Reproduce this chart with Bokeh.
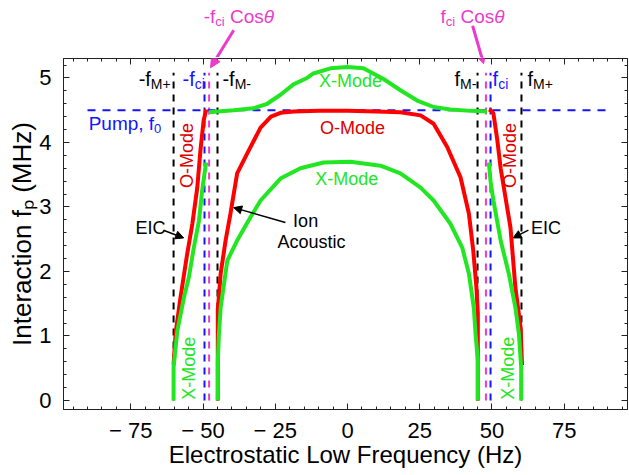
import numpy as np
from math import pi
from bokeh.plotting import figure
from bokeh.layouts import column
from bokeh.models import Label, Arrow, NormalHead, Range1d, FixedTicker, LinearAxis
from bokeh.embed import file_html
from bokeh.resources import INLINE

# ---------------- data (Hz, MHz) ----------------
f_M_plus = 60.2
f_M_minus = 45.0
f_ci = 49.5
f_ci_cos = 47.9
pump_f0 = 4.5
pump_x = [-90.0, 90.0]
vline_top = 5.08

# outer O-mode (EIC) branches
o_eic_left_x = [-60.2, -59.5, -57.8, -55.5, -53.7, -52.0, -50.9, -49.8, -48.9]
o_eic_left_y = [0.55, 1.04, 1.60, 2.27, 2.74, 3.30, 3.88, 4.34, 4.51]
o_eic_right_x = [48.9, 49.5, 50.5, 51.8, 53.0, 56.4, 58.1, 59.9, 60.4]
o_eic_right_y = [4.51, 4.50, 4.45, 4.05, 3.60, 2.68, 1.75, 1.13, 0.55]

# outer X-mode (EIC) branches
x_eic_left_x = [-60.2, -60.2, -58.9, -56.6, -54.9, -53.2, -51.4, -50.3, -49.5, -48.9]
x_eic_left_y = [0.0, 0.51, 1.08, 1.60, 1.91, 2.37, 2.79, 3.26, 3.52, 3.69]
x_eic_right_x = [48.9, 49.5, 50.5, 53.0, 55.8, 58.1, 59.3, 60.1, 60.1]
x_eic_right_y = [3.69, 3.40, 3.10, 2.48, 1.97, 1.44, 1.04, 0.51, 0.0]

# inner O-mode (ion acoustic) dome
o_ia_x = [-44.9, -44.9, -44.9, -43.9, -42.2, -40.5, -38.2, -34.7, -30.1, -26.5, -23.2,
          -18.7, -10.0, 0.0, 10.0, 18.3, 25.3, 29.8, 34.5, 39.1, 42.0, 43.5, 44.6, 45.1, 45.1, 45.1]
o_ia_y = [0.0, 0.70, 1.40, 1.97, 2.48, 2.90, 3.52, 3.83, 4.23, 4.40, 4.46,
          4.48, 4.49, 4.49, 4.48, 4.47, 4.42, 4.29, 3.93, 3.46, 2.90, 2.33, 1.76, 1.35, 0.70, 0.0]

# inner X-mode dome
x_ia_x = [-44.9, -44.9, -44.5, -43.9, -41.6, -38.2, -33.6, -30.1, -23.2, -16.3, -8.3, 1.0,
          11.4, 18.3, 25.3, 29.8, 35.6, 39.7, 42.0, 43.7, 44.3, 45.1, 45.1]
x_ia_y = [0.0, 0.60, 1.04, 1.44, 2.17, 2.48, 2.84, 3.10, 3.44, 3.60, 3.69, 3.70,
          3.64, 3.52, 3.30, 3.10, 2.74, 2.37, 1.97, 1.44, 1.04, 0.62, 0.0]

# upper X-mode (above pump)
x_up_x = [-48.0, -39.4, -32.5, -27.8, -23.2, -18.7, -14.0, -11.8, -5.9, 0.0, 5.5,
          12.6, 18.3, 24.1, 29.8, 35.6, 42.6, 48.3]
x_up_y = [4.47, 4.50, 4.53, 4.60, 4.74, 4.90, 5.00, 5.07, 5.15, 5.17, 5.15,
          4.98, 4.81, 4.65, 4.55, 4.51, 4.49, 4.48]

x_major = [-75, -50, -25, 0, 25, 50, 75]
x_minor = list(range(-95, 100, 5))
y_major = [0, 1, 2, 3, 4, 5]
y_minor = [round(v * 0.2, 1) for v in range(0, 27)]
x_tick_labels = {-75: "\u2212 75", -50: "\u2212 50", -25: "\u2212 25", 0: "0", 25: "25", 50: "50", 75: "75"}

RED = "#ff0000"
GREEN = "#22e622"
BLUE = "#1414ff"
MAG = "#ec3acc"
FONT = "Liberation Sans"

x_range = Range1d(-98.3, 96.9)
y_main = Range1d(-0.14, 5.302)
y_top = Range1d(5.318, 6.202)

# top strip (labels above the frame)
pt = figure(width=629, height=57, x_range=x_range, y_range=y_top, output_backend="svg",
            toolbar_location=None, x_axis_location=None, y_axis_location=None,
            min_border_left=63, min_border_right=2, min_border_top=0, min_border_bottom=0)
pt.xgrid.visible = False
pt.ygrid.visible = False
pt.outline_line_color = None

p = figure(width=629, height=418, x_range=x_range, y_range=y_main,
           output_backend="svg", toolbar_location=None,
           min_border_left=63, min_border_right=2, min_border_top=1, min_border_bottom=66)
p.xgrid.visible = False
p.ygrid.visible = False
p.outline_line_color = "#222222"
p.outline_line_width = 1

xt = FixedTicker(ticks=x_major, minor_ticks=x_minor)
yt = FixedTicker(ticks=y_major, minor_ticks=y_minor)


def tick_style(ax):
    ax.axis_line_color = "#222222"
    ax.major_tick_in = 6
    ax.major_tick_out = 0
    ax.minor_tick_in = 3
    ax.minor_tick_out = 0
    ax.major_tick_line_color = "#222222"
    ax.minor_tick_line_color = "#222222"


p.xaxis.ticker = xt
p.yaxis.ticker = yt
p.xaxis.major_label_overrides = x_tick_labels
for ax in (p.xaxis[0], p.yaxis[0]):
    tick_style(ax)
    ax.major_label_text_font = FONT
    ax.major_label_text_font_size = "22px"
    ax.major_label_text_color = "black"
    ax.axis_label_text_font = FONT
    ax.axis_label_text_font_style = "normal"
    ax.axis_label_text_color = "black"
p.xaxis.axis_label_text_font_size = "24px"
p.yaxis.axis_label_text_font_size = "26px"
p.xaxis.major_label_standoff = 8
p.yaxis.major_label_standoff = 12
p.xaxis.axis_label = "Electrostatic Low Frequency (Hz)"
p.xaxis.axis_label_standoff = -5
p.yaxis.axis_label = "Interaction f\u209a (MHz)"
p.yaxis.axis_label_standoff = -1

# mirrored ticks on the top and right edges of the frame
top_ax = LinearAxis(ticker=xt, major_label_overrides={t: "" for t in x_major},
                    major_label_text_font_size="1px", major_label_standoff=0)
right_ax = LinearAxis(ticker=yt, major_label_overrides={t: "" for t in y_major},
                      major_label_text_font_size="1px", major_label_standoff=0)
tick_style(top_ax)
tick_style(right_ax)
p.add_layout(top_ax, "above")
p.add_layout(right_ax, "right")

# ---------------- dashed reference lines ----------------
vx_black = [-f_M_plus, -f_M_minus, f_M_minus, f_M_plus]
vx_blue = [-f_ci, f_ci]
vx_mag = [-f_ci_cos, f_ci_cos]
p.segment(x0=vx_black, x1=vx_black, y0=[0] * 4, y1=[vline_top] * 4, line_color="black",
          line_width=2, line_dash="7 6")
p.segment(x0=vx_blue, x1=vx_blue, y0=[0] * 2, y1=[vline_top] * 2, line_color=BLUE,
          line_width=2, line_dash="7 6")
p.segment(x0=vx_mag, x1=vx_mag, y0=[0] * 2, y1=[vline_top] * 2, line_color=MAG,
          line_width=2, line_dash="7 6")
p.line(pump_x, [pump_f0, pump_f0], line_color=BLUE, line_width=2, line_dash="8 7")

# ---------------- curves ----------------
LW = 4
p.line(o_eic_left_x, o_eic_left_y, line_color=RED, line_width=LW)
p.line(o_eic_right_x, o_eic_right_y, line_color=RED, line_width=LW)
p.line(o_ia_x, o_ia_y, line_color=RED, line_width=LW)
p.line(x_eic_left_x, x_eic_left_y, line_color=GREEN, line_width=LW)
p.line(x_eic_right_x, x_eic_right_y, line_color=GREEN, line_width=LW)
p.line(x_ia_x, x_ia_y, line_color=GREEN, line_width=LW)
p.line(x_up_x, x_up_y, line_color=GREEN, line_width=LW)

# ---------------- text helpers ----------------
W = {' ': 278, '-': 333, 'f': 278, 'M': 833, '+': 584, 'c': 500, 'i': 222, 'C': 722, 'o': 556,
     's': 500, '\u03b8': 556, 'P': 667, 'u': 556, 'm': 833, 'p': 556, ',': 278, '0': 556}


def tw(s, size):
    return sum(W.get(ch, 556) for ch in s) * size / 1000.0


def rich(fig, parts, x, y, color, align="left"):
    total = sum(tw(t, s) for t, s, dy, st in parts)
    off = 0.0 if align == "left" else (-total if align == "right" else -total / 2.0)
    for t, s, dy, st in parts:
        lead = len(t) - len(t.lstrip(" "))
        shown = t.strip(" ")
        if shown:
            fig.add_layout(Label(x=x, y=y, text=shown, x_offset=off + tw(" " * lead, s), y_offset=dy,
                                 text_font=FONT, text_font_size=f"{s}px", text_font_style=st,
                                 text_color=color, text_align="left", text_baseline="alphabetic"))
        off += tw(t, s)


def txt(t, x, y, color, size=18, angle=0.0, align="center"):
    p.add_layout(Label(x=x, y=y, text=t, angle=angle, text_font=FONT,
                       text_font_size=f"{size}px", text_color=color,
                       text_align=align, text_baseline="middle"))


MS, SS, SD = 20, 14, -5
LY = 4.98
# vertical line labels
rich(p, [("-f", MS, 0, "normal"), ("M+", SS, SD, "normal")], -61.2, LY, "black", align="right")
rich(p, [("-f", MS, 0, "normal"), ("ci", SS, SD, "normal")], -57.1, LY, BLUE)
rich(p, [("-f", MS, 0, "normal"), ("M-", SS, SD, "normal")], -43.3, LY, "black")
rich(p, [("f", MS, 0, "normal"), ("M-", SS, SD, "normal")], 44.6, LY, "black", align="right")
rich(p, [("f", MS, 0, "normal"), ("ci", SS, SD, "normal")], 50.2, LY, BLUE)
rich(p, [("f", MS, 0, "normal"), ("M+", SS, SD, "normal")], 62.3, LY, "black")

# f_ci cos(theta) labels (top strip) and their arrows (split across the two panels)
TY = 5.95
rich(pt, [("-f", 19, 0, "normal"), ("ci", 13, -5, "normal"), (" Cos", 19, 0, "normal"),
          ("\u03b8", 19, 0, "italic")], -49.8, TY, MAG)
rich(pt, [("f", 19, 0, "normal"), ("ci", 13, -5, "normal"), (" Cos", 19, 0, "normal"),
          ("\u03b8", 19, 0, "italic")], 32.2, TY, MAG)
for xs, ys, xe, ye in [(-39.4, 5.74, -47.4, 5.16), (43.3, 5.81, 47.1, 5.22)]:
    def x_at(yv):
        return xs + (xe - xs) * (ys - yv) / (ys - ye)
    pt.add_layout(Arrow(x_start=xs, y_start=ys, x_end=x_at(y_top.start - 0.02), y_end=y_top.start - 0.02,
                        line_color=MAG, line_width=3, end=None))
    p.add_layout(Arrow(x_start=x_at(y_main.end + 0.02), y_start=y_main.end + 0.02, x_end=xe, y_end=ye,
                       line_color=MAG, line_width=3,
                       end=NormalHead(size=10, fill_color=MAG, line_color=MAG)))

# pump label
rich(p, [("Pump, f", 19, 0, "normal"), ("0", 13, -5, "normal")], -89.6, 4.29, BLUE)

# mode labels
txt("X-Mode", 1.0, 4.96, GREEN, 18)
txt("O-Mode", 1.7, 4.22, "#dd0000", 18)
txt("X-Mode", -0.3, 3.43, GREEN, 18)
txt("O-Mode", -55.4, 3.80, "#dd0000", 18, angle=pi / 2)
txt("O-Mode", 56.4, 3.80, "#dd0000", 18, angle=pi / 2)
txt("X-Mode", -55.0, 0.50, GREEN, 18, angle=pi / 2)
txt("X-Mode", 55.4, 0.50, GREEN, 18, angle=pi / 2)

# EIC / ion acoustic annotations
txt("EIC", -68.2, 2.67, "black", 18)
txt("EIC", 68.7, 2.67, "black", 18)
txt("Ion", -14.5, 2.79, "black", 18)
txt("Acoustic", -12.5, 2.45, "black", 18)
for xs, ys, xe, ye in [(-63.7, 2.64, -56.7, 2.52), (62.6, 2.64, 57.3, 2.52),
                       (-21.5, 2.76, -39.4, 2.99)]:
    p.add_layout(Arrow(x_start=xs, y_start=ys, x_end=xe, y_end=ye, line_color="black",
                       line_width=1.5, end=NormalHead(size=8, fill_color="black",
                                                      line_color="black")))

layout = column(pt, p, spacing=0)
open("out.html", "w").write(file_html(layout, INLINE))
